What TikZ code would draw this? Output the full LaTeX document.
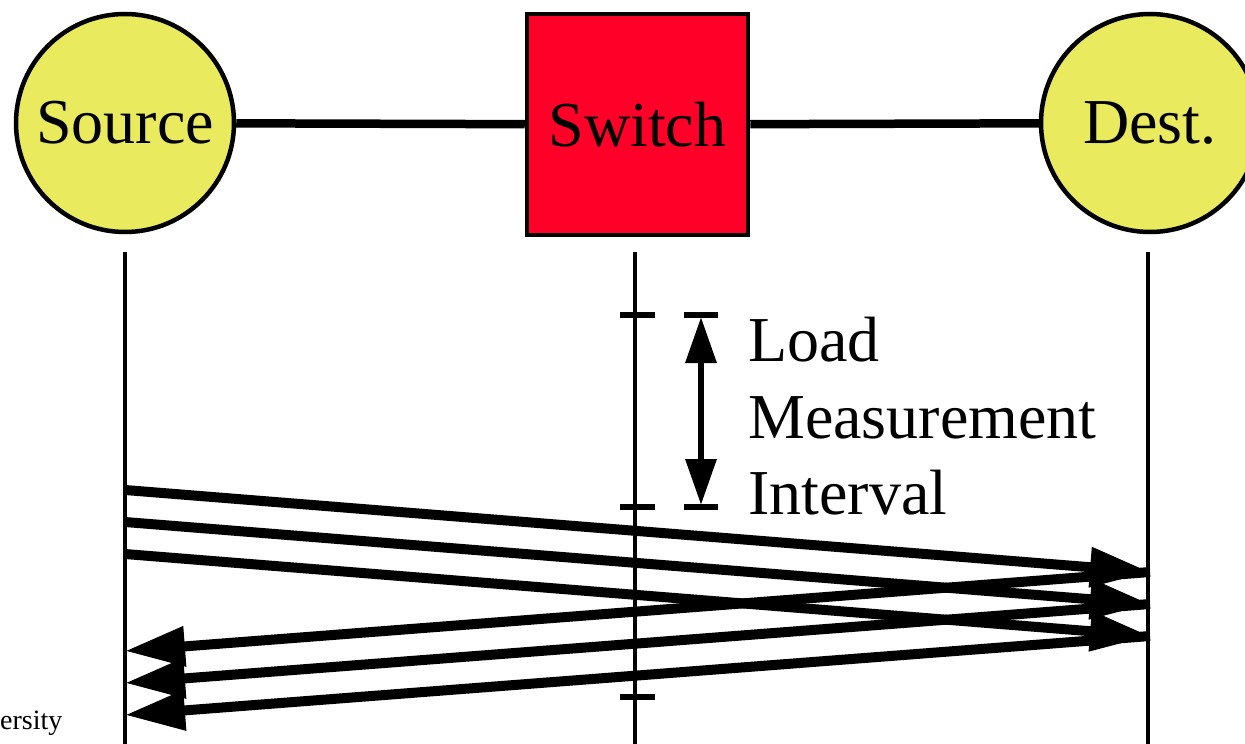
\documentclass[tikz,border=0pt]{standalone}
\usepackage{fontspec}
\setmainfont{Liberation Serif}
\usetikzlibrary{arrows.meta}
\definecolor{nodeyellow}{RGB}{234,234,94}
\definecolor{switchred}{RGB}{255,0,40}
\begin{document}
\begin{tikzpicture}[x=1pt,y=-1pt,
  endpoint/.style={circle,draw=black,line width=4.5pt,fill=nodeyellow,minimum size=218pt,inner sep=0pt,font=\fontsize{64}{64}\selectfont},
  switchbox/.style={rectangle,draw=black,line width=4.5pt,fill=switchred,minimum width=221pt,minimum height=221pt,inner sep=0pt,font=\fontsize{64}{64}\selectfont},
  link/.style={line width=8.5pt},
  lifeline/.style={line width=4.5pt},
  tick/.style={line width=5.5pt},
  msg/.style={line width=10pt,-{Triangle[length=60pt,width=38pt]}},
  dim/.style={line width=6.5pt,{Triangle[length=46pt,width=30pt]}-{Triangle[length=46pt,width=30pt]}},
  lbl/.style={font=\fontsize{64}{64}\selectfont,anchor=base west,inner sep=0pt}
]
\useasboundingbox (0,0) rectangle (1245,744);
\node[endpoint] (src) at (125,123) {Source};
\node[endpoint] (dst) at (1150,123) {Dest.};
\node[switchbox] (sw) at (637.5,124.5) {Switch};
\draw[link] (src) -- (sw);
\draw[link] (sw) -- (dst);
% lifelines
\coordinate (s0) at (125,252); \coordinate (s1) at (125,744);
\coordinate (w0) at (635,252); \coordinate (w1) at (635,744);
\coordinate (d0) at (1148,252); \coordinate (d1) at (1148,744);
\draw[lifeline] (s0) -- (s1);
\draw[lifeline] (w0) -- (w1);
\draw[lifeline] (d0) -- (d1);
% ticks on switch lifeline
\foreach \y/\n in {315/ta,507/tb,697/tc}{
  \coordinate (\n l) at (620,\y); \coordinate (\n r) at (655,\y);
  \draw[tick] (\n l) -- (\n r);
}
% dimension
\coordinate (ma) at (684,315); \coordinate (mb) at (718,315);
\coordinate (mc) at (684,507); \coordinate (md) at (718,507);
\draw[tick] (ma) -- (mb);
\draw[tick] (mc) -- (md);
\coordinate (dimtop) at (701,317); \coordinate (dimbot) at (701,505);
\draw[dim] (dimtop) -- (dimbot);
\node[lbl] (l1) at (748,361) {Load};
\node[lbl] (l2) at (748,438) {Measurement};
\node[lbl] (l3) at (748,514) {Interval};
% messages
\coordinate (a1) at (125,490); \coordinate (b1) at (1150,572);
\coordinate (a2) at (125,522); \coordinate (b2) at (1150,604);
\coordinate (a3) at (125,554); \coordinate (b3) at (1150,636);
\coordinate (c1) at (125,651); \coordinate (c2) at (125,683); \coordinate (c3) at (125,715);
\draw[msg] (a1) -- (b1);
\draw[msg] (a2) -- (b2);
\draw[msg] (a3) -- (b3);
\draw[msg] (b1) -- (c1);
\draw[msg] (b2) -- (c2);
\draw[msg] (b3) -- (c3);
\node[font=\fontsize{28}{28}\selectfont,anchor=base west,inner sep=0pt] (uni) at (0,729) {ersity};
\end{tikzpicture}
\end{document}
